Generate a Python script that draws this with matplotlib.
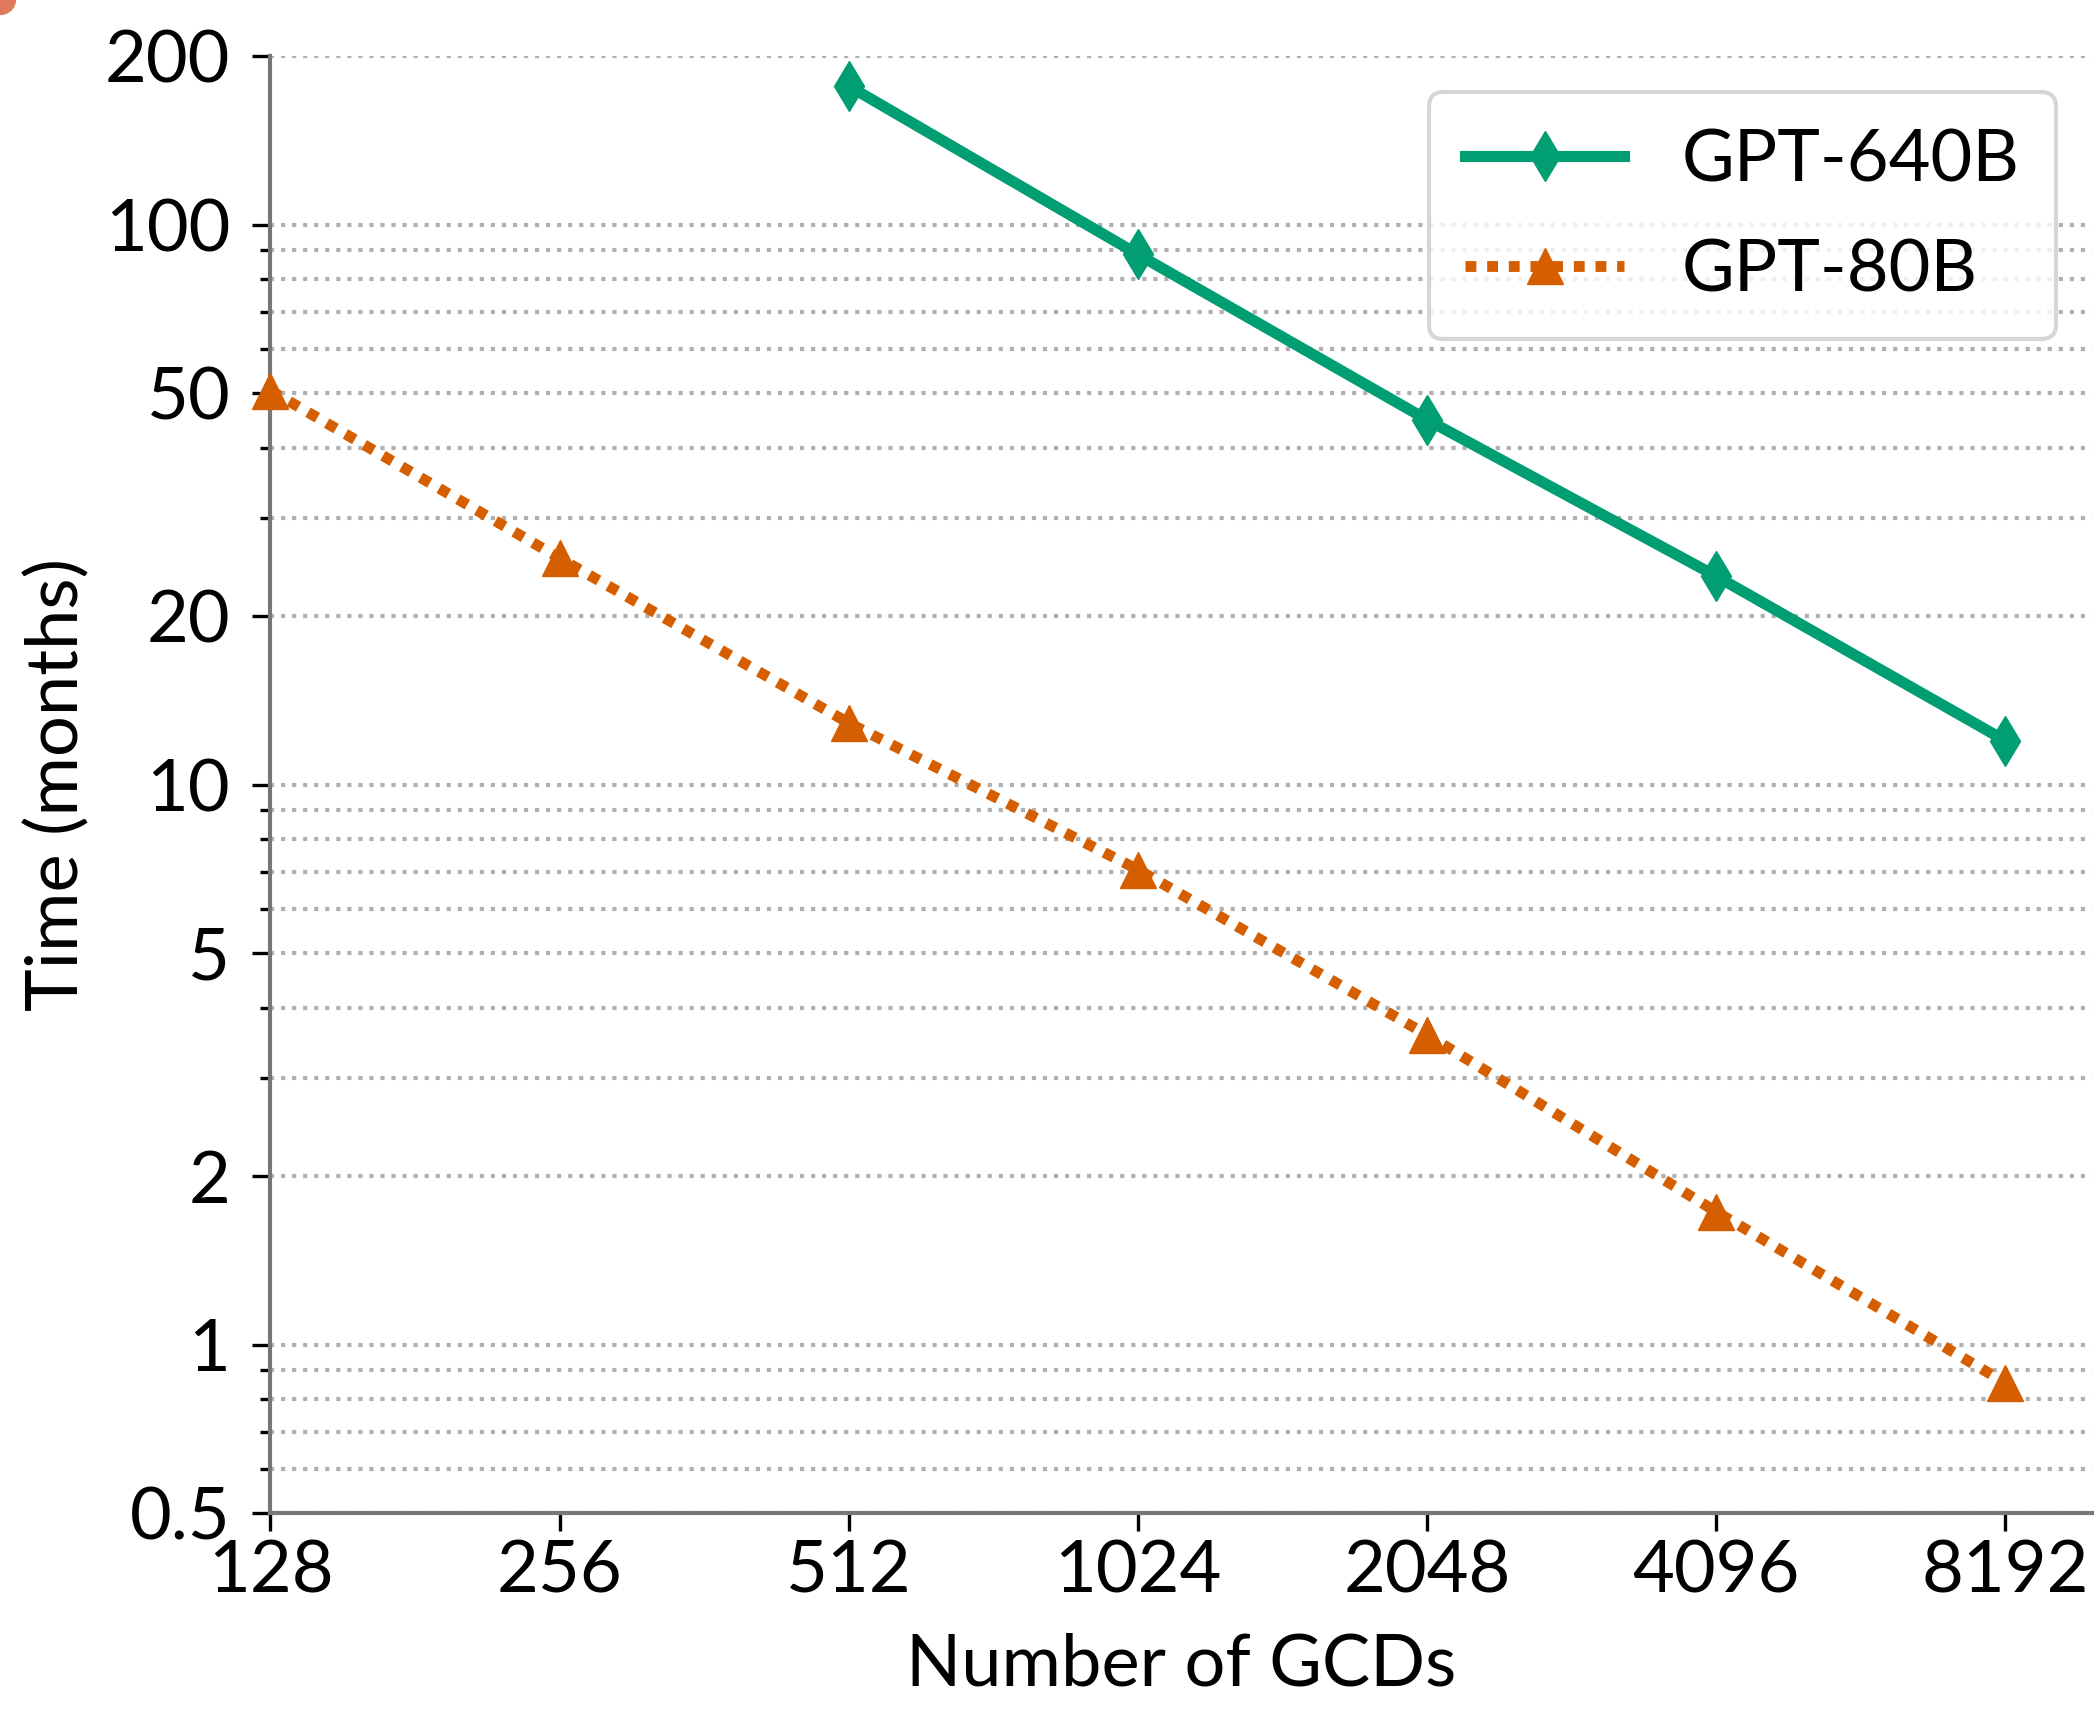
import matplotlib
matplotlib.use('Agg')
import matplotlib.pyplot as plt
from matplotlib.ticker import FixedLocator, NullFormatter, FixedFormatter
from matplotlib.patches import Ellipse

# ---- data ----
gcds = [128, 256, 512, 1024, 2048, 4096, 8192]
gpt640_gcds = [512, 1024, 2048, 4096, 8192]
gpt640_time = [177, 88.6, 44.9, 23.6, 12.0]
gpt80_gcds = [128, 256, 512, 1024, 2048, 4096, 8192]
gpt80_time = [50.6, 25.4, 12.9, 7.06, 3.58, 1.73, 0.856]
x_tick_labels = ['128', '256', '512', '1024', '2048', '4096', '8192']
y_major = [0.5, 1, 2, 5, 10, 20, 50, 100, 200]
y_major_labels = ['0.5', '1', '2', '5', '10', '20', '50', '100', '200']
y_minor = [0.6, 0.7, 0.8, 0.9, 3, 4, 6, 7, 8, 9, 30, 40, 60, 70, 80, 90]

GREEN = '#029E73'
ORANGE = '#D55E00'
FS = 26

plt.rcParams['font.family'] = ['Lato', 'DejaVu Sans']

fig = plt.figure(figsize=(10.5, 8.605), dpi=200)
ax = fig.add_axes([0.1288, 0.1206, 0.9962 - 0.1288, 0.9673 - 0.1206])

ax.plot(gpt640_gcds, gpt640_time, color=GREEN, lw=4.0, marker='d', ms=12.5,
        mew=0.5, mec=GREEN, label='GPT-640B', clip_on=False, zorder=4)
ax.plot(gpt80_gcds, gpt80_time, color=ORANGE, lw=3.9, ls=(0, (1, 1.0)),
        marker='^', ms=13, mew=0.5, mec=ORANGE, label='GPT-80B',
        clip_on=False, zorder=4)

ax.set_xscale('log', base=2)
ax.set_yscale('log')
ax.set_xlim(128, 8192 * 2 ** 0.301)
ax.set_ylim(0.5, 200)

ax.xaxis.set_major_locator(FixedLocator(gcds))
ax.xaxis.set_major_formatter(FixedFormatter(x_tick_labels))
ax.xaxis.set_minor_locator(FixedLocator([]))
ax.yaxis.set_major_locator(FixedLocator(y_major))
ax.yaxis.set_major_formatter(FixedFormatter(y_major_labels))
ax.yaxis.set_minor_locator(FixedLocator(y_minor))
ax.yaxis.set_minor_formatter(NullFormatter())

ax.tick_params(axis='both', which='major', length=6.5, width=1.2,
               color='black', labelsize=FS, labelcolor='black')
ax.tick_params(axis='y', which='major', pad=8)
ax.tick_params(axis='x', which='major', pad=3)
ax.tick_params(axis='y', which='minor', length=3.5, width=1.2, color='black')

ax.grid(True, which='both', axis='y', ls=':', color='#b0b0b0', lw=1.5)
ax.set_axisbelow(True)

for s in ['top', 'right']:
    ax.spines[s].set_visible(False)
for s in ['left', 'bottom']:
    ax.spines[s].set_color('#777777')
    ax.spines[s].set_linewidth(1.5)

ax.set_xlabel('Number of GCDs', fontsize=FS, labelpad=10)
ax.set_ylabel('Time (months)', fontsize=FS, labelpad=5)

leg = ax.legend(loc='upper right', fontsize=FS, handlelength=2.2,
                handletextpad=0.8, labelspacing=0.62, borderpad=0.5,
                borderaxespad=0.5, fancybox=True, framealpha=0.8,
                edgecolor='#cccccc')
leg.get_frame().set_linewidth(1.5)

# small clipped blob in the top-left corner of the original image
fig.patches.append(Ellipse((0.0, 1.0), 0.014, 0.016, transform=fig.transFigure,
                           color='#e07a5f', zorder=0))

fig.savefig('out.png', dpi=200)
